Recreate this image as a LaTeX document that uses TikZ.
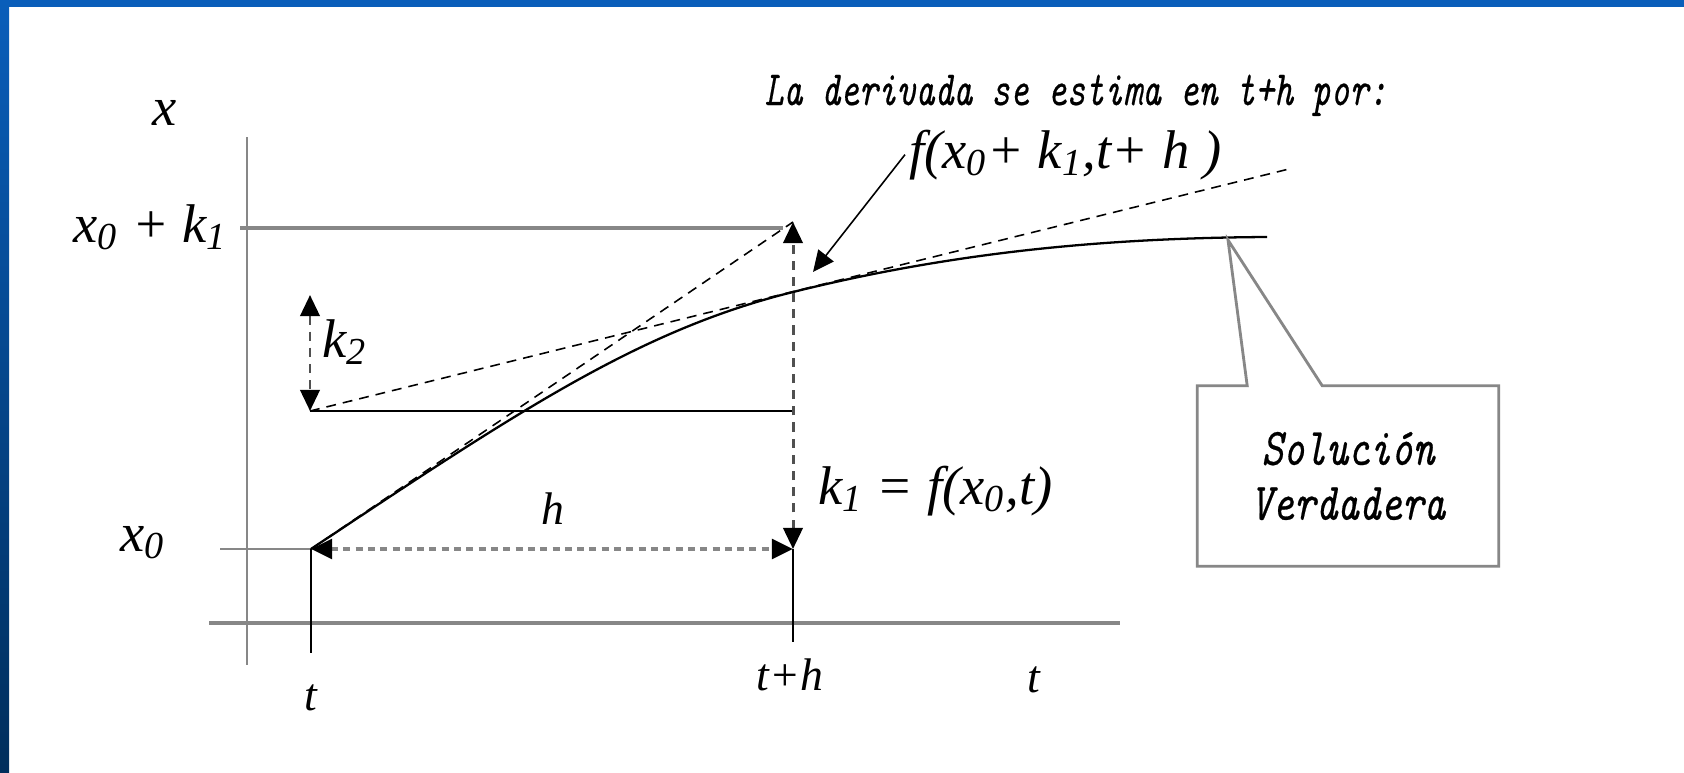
\documentclass[tikz,border=0pt]{standalone}
\usepackage{fontspec}
\usepackage{graphicx}
\setmainfont{Liberation Serif}
\newfontfamily\slabfont{Latin Modern Mono}[FakeBold=0.5]
\usetikzlibrary{arrows.meta, calc}
\definecolor{frameTop}{RGB}{10,94,186}
\definecolor{frameBot}{RGB}{0,46,92}
\definecolor{axisGray}{RGB}{135,135,135}
\definecolor{dashGray}{RGB}{80,80,80}
\newcommand{\hsqueeze}[2]{\scalebox{#1}[1]{#2}}

\begin{document}
\begin{tikzpicture}[x=0.01cm, y=-0.01cm,
    >={Triangle[length=6pt, width=5.5pt, color=black]},
    axis/.style={draw=axisGray, line width=0.7pt},
    guide/.style={draw=axisGray, line width=0.9pt},
    thinln/.style={draw=black, line width=0.45pt},
    soln/.style={draw=black, line width=0.65pt},
    dashln/.style={draw=black, line width=0.45pt, dash pattern=on 2.8pt off 2pt},
    kdim/.style={draw=dashGray, line width=0.85pt, dash pattern=on 2.6pt off 2pt, <->},
    hdim/.style={draw=axisGray, line width=1.3pt, dash pattern=on 2pt off 1.5pt, <->},
    lbl/.style={font=\fontsize{15.5}{18}\selectfont\itshape, inner sep=1pt},
    tlbl/.style={font=\fontsize{13}{15}\selectfont\itshape, inner sep=1pt},
    note/.style={font=\fontsize{14}{16}\selectfont\slabfont\itshape, inner sep=1pt},
    solbox/.style={font=\fontsize{15}{15.6}\selectfont\slabfont\itshape, align=center,
      minimum width=3cm, minimum height=1.79cm, inner sep=0pt},
    callout/.style={draw=axisGray, line width=0.8pt}
  ]
    % slide frame
    \fill[white] (0,0) rectangle (1684,772);
    \fill[frameTop] (0,0) rectangle (1684,7);
    \shade[top color=frameTop, bottom color=frameBot] (0,0) rectangle (9,772);
    \useasboundingbox (0,0) rectangle (1684,772);

    % key points
    \coordinate (yTop)   at (247,137);
    \coordinate (yBot)   at (247,665);
    \coordinate (tLeft)  at (209,623);
    \coordinate (tRight) at (1120,623);
    \coordinate (x0Left) at (220,549);
    \coordinate (k1Left) at (240,228);
    \coordinate (k1Right) at (783,228);
    \coordinate (A) at (311,549);  % (t, x0)
    \coordinate (B) at (793,549);  % (t+h, x0)
    \coordinate (C) at (793,222);  % (t+h, x0+k1)
    \coordinate (D) at (310,411);  % k2 base
    \coordinate (E) at (310,295);  % k2 top
    \coordinate (F) at (793,411);
    \coordinate (G) at (793,292);  % solution at t+h
    \coordinate (H) at (1293,168); % end of slope line
    \coordinate (S) at (1267,237); % end of solution
    \coordinate (tTick)  at (311,653);
    \coordinate (thTick) at (793,642);
    \coordinate (fTip)   at (813,272);
    \coordinate (solTip) at (1228,240);

    % axes
    \draw[axis] (yTop) -- (yBot);
    \draw[guide] (tLeft) -- (tRight);
    \draw[guide] (k1Left) -- (k1Right);
    \draw[thinln, draw=axisGray] (x0Left) -- (A);
    \draw[thinln] (A) -- (tTick);
    \draw[thinln] (B) -- (thTick);
    \draw[thinln] (D) -- (F);

    % Euler step and slope at t+h
    \draw[dashln] (A) -- (C);
    \draw[dashln] (D) -- (H);

    % true solution
    \draw[soln] (A) .. controls (520,410) and (640,330) .. (G)
                    .. controls (950,253) and (1100,238) .. (S);

    % increments
    \draw[kdim] (E) -- (D);
    \draw[kdim] (B) -- (C);
    \draw[hdim] (A) -- (B);

    % axis labels
    \node[lbl, anchor=base] (xlab) at (165,125) {x};
    \node[lbl, anchor=base east] (xklab) at (232,242) {x\textsubscript{0} + k\textsubscript{1}};
    \node[lbl, anchor=base] (x0lab) at (143,551) {x\textsubscript{0}};
    \node[tlbl, anchor=base] (tlab) at (311,710) {t};
    \node[tlbl, anchor=base] (thlab) at (790,690) {t+h};
    \node[tlbl, anchor=base] (taxis) at (1034,692) {t};

    % increment labels
    \node[lbl, anchor=base west] (k2lab) at (318,357) {k\textsubscript{2}};
    \node[tlbl, anchor=base] (hlab) at (553,524) {h};
    \node[lbl, anchor=base west] (k1lab) at (814,504) {k\textsubscript{1} = f(x\textsubscript{0},t)};

    % note on the slope
    \node[note, anchor=base] (topnote) at (1076,105) {\hsqueeze{0.73}{La derivada se estima en t+h por:}};
    \node[lbl, anchor=base west] (fnote) at (905,168) {f(x\textsubscript{0}+ k\textsubscript{1},t+ h~)};
    \draw[thinln, ->] (fnote.west) -- (fTip);

    % callout
    \node[solbox] (sol) at (1348,476) {\hsqueeze{0.78}{Solución}\\\hsqueeze{0.78}{Verdadera}};
    \draw[callout] (sol.north west) -- ($(sol.north west)+(50,0)$) -- (solTip)
      -- ($(sol.north west)+(125,0)$) -- (sol.north east) -- (sol.south east)
      -- (sol.south west) -- cycle;
\end{tikzpicture}
\end{document}
